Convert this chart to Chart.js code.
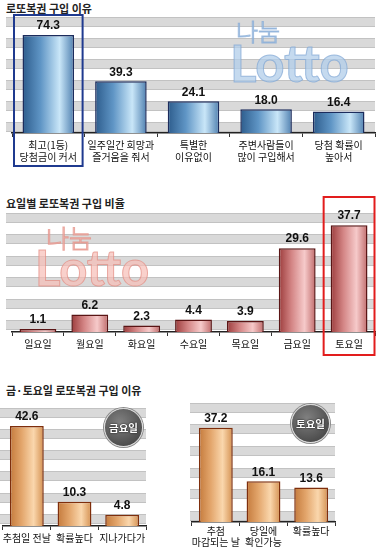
<!DOCTYPE html>
<html>
<head>
<meta charset="utf-8">
<script src="https://cdn.jsdelivr.net/npm/chart.js@4.4.1/dist/chart.umd.min.js"></script>
<style>
  body { margin: 0; background: #fff; }
  #page { position: relative; width: 380px; height: 548px; overflow: hidden; font-family: "Noto Sans CJK KR", sans-serif; }
  #page canvas { position: absolute; }
  .title { position: absolute; left: 6px; font-size: 11px; font-weight: bold; color: #222; line-height: 14px; white-space: nowrap; }
  .mark { position: absolute; line-height: 1; white-space: nowrap; pointer-events: none; }
  .mark.lotto { font-family: Lato, sans-serif; font-weight: bold; }
  .mark.nanum { font-family: "Noto Sans CJK KR", sans-serif; font-weight: 300; }
  .blue { color: rgba(178, 206, 234, 0.75); -webkit-text-stroke: 1px rgba(128, 166, 212, 0.7); }
  .pink { color: rgba(246, 190, 182, 0.7); -webkit-text-stroke: 1px rgba(226, 140, 130, 0.7); }
  .badge { position: absolute; width: 37px; height: 37px; border-radius: 50%;
    background: radial-gradient(circle at 40% 35%, #808080, #4c4c4c 75%);
    border: 1.5px solid #d8d8d8; box-shadow: 0 0 0 1px #8a8a8a;
    color: #fff; font-size: 10.5px; font-weight: bold; line-height: 37px; text-align: center;
    text-shadow: 0 0 2px #222, 0 0 1px #222; }
</style>
</head>
<body>
<div id="page">
  <div class="title" style="top:1px">로또복권 구입 이유</div>
  <canvas id="reason-chart" width="380" height="172" style="left:0;top:0"></canvas>
  <div class="mark nanum blue" style="left:236px;top:19px;font-size:24px">나눔</div>
  <div class="mark lotto blue" style="left:230px;top:37px;font-size:51px">Lotto</div>

  <div class="title" style="top:196px">요일별 로또복권 구입 비율</div>
  <canvas id="day-chart" width="380" height="175" style="left:0;top:185px"></canvas>
  <div class="mark nanum pink" style="left:46px;top:225px;font-size:25px">나눔</div>
  <div class="mark lotto pink" style="left:35px;top:243px;font-size:49px">Lotto</div>

  <div class="title" style="top:383px">금·토요일 로또복권 구입 이유</div>
  <canvas id="friday-chart" width="152" height="153" style="left:0;top:395px"></canvas>
  <canvas id="saturday-chart" width="157" height="153" style="left:185px;top:395px"></canvas>
  <div class="badge" style="left:104px;top:408px">금요일</div>
  <div class="badge" style="left:291px;top:404px">토요일</div>
</div>

<script>
// data
const reasonLabels = [["최고(1등)", "당첨금이 커서"], ["일주일간 희망과", "즐거움을 줘서"], ["특별한", "이유없이"], ["주변사람들이", "많이 구입해서"], ["당첨 확률이", "높아서"]];
const reasonValues = [74.3, 39.3, 24.1, 18.0, 16.4];

const dayLabels = ["일요일", "월요일", "화요일", "수요일", "목요일", "금요일", "토요일"];
const dayValues = [1.1, 6.2, 2.3, 4.4, 3.9, 29.6, 37.7];

const fridayLabels = ["추첨일 전날", "확률높다", "지나가다가"];
const fridayValues = [42.6, 10.3, 4.8];

const saturdayLabels = [["추첨", "마감되는 날"], ["당일에", "확인가능"], "확률높다"];
const saturdayValues = [37.2, 16.1, 13.6];

const BAR_SHARE = 0.71;
const KR_FONT = '"Noto Sans CJK KR", sans-serif';

const blueStops = [[0, "#2d5c8c"], [0.35, "#5f95c5"], [0.72, "#c9e6f8"], [1, "#4f80b0"]];
const redStops = [[0, "#9c3c3c"], [0.35, "#d48686"], [0.7, "#f6caca"], [1, "#c06b6b"]];
const orangeStops = [[0, "#c47a3c"], [0.35, "#e3a66c"], [0.7, "#fad7ad"], [1, "#d49050"]];

// horizontal shine across each bar
function barFill(stops) {
  return (context) => {
    const chart = context.chart;
    const xs = chart.scales.x;
    if (!xs || !chart.chartArea) return stops[2][1];
    const half = xs.width / chart.data.labels.length * BAR_SHARE / 2;
    const cx = xs.getPixelForValue(context.dataIndex);
    const g = chart.ctx.createLinearGradient(cx - half, 0, cx + half, 0);
    stops.forEach(([o, c]) => g.addColorStop(o, c));
    return g;
  };
}

const valueLabels = {
  id: "valueLabels",
  afterDatasetsDraw(chart) {
    const ctx = chart.ctx;
    const values = chart.data.datasets[0].data;
    ctx.save();
    ctx.font = 'bold 12px "Liberation Sans Narrow", "Liberation Sans", sans-serif';
    ctx.fillStyle = "#111";
    ctx.textAlign = "center";
    ctx.textBaseline = "bottom";
    chart.getDatasetMeta(0).data.forEach((bar, i) => {
      ctx.fillText(values[i].toFixed(1), bar.x, bar.y - 3);
    });
    ctx.restore();
  }
};

const highlightBox = {
  id: "highlightBox",
  afterDraw(chart, args, opts) {
    if (opts.index == null) return;
    const xs = chart.scales.x;
    const step = xs.width / chart.data.labels.length;
    const left = xs.getPixelForValue(opts.index) - step / 2 + opts.inset;
    const top = chart.chartArea.top - opts.above;
    const ctx = chart.ctx;
    ctx.save();
    ctx.strokeStyle = opts.color;
    ctx.lineWidth = 2;
    ctx.strokeRect(left, top, step - opts.inset * 2, chart.height - opts.below - top);
    ctx.restore();
  }
};

// gray bands behind the bars, placed on the y scale
const bands = {
  id: "bands",
  beforeDatasetsDraw(chart, args, opts) {
    const ys = chart.scales.y;
    const { left, right } = chart.chartArea;
    const x0 = left - opts.extend;
    const w = right - x0;
    const ctx = chart.ctx;
    ctx.save();
    opts.values.forEach(v => {
      const y = Math.round(ys.getPixelForValue(v));
      ctx.fillStyle = "#d9d9d9";
      ctx.fillRect(x0, y - 4, w, 8);
      ctx.fillStyle = "#c2c2c2";
      ctx.fillRect(x0, y - 5, w, 1);
      ctx.fillRect(x0, y + 4, w, 1);
    });
    ctx.restore();
  }
};

function makeBarChart(id, labels, values, o) {
  return new Chart(document.getElementById(id), {
    type: "bar",
    data: {
      labels: labels,
      datasets: [{
        data: values,
        backgroundColor: barFill(o.stops),
        borderColor: o.border,
        borderWidth: 1.5,
        categoryPercentage: 1,
        barPercentage: BAR_SHARE
      }]
    },
    options: {
      responsive: false,
      animation: false,
      layout: { padding: o.padding },
      plugins: {
        legend: { display: false },
        tooltip: { enabled: false },
        bands: { values: o.bands, extend: o.extend || 0 },
        highlightBox: o.highlight || {}
      },
      scales: {
        x: {
          grid: { drawOnChartArea: false, offset: true, tickLength: 4, tickColor: "#333" },
          border: { color: "#222", width: 1.5 },
          ticks: {
            color: "#111", padding: o.tickPad, maxRotation: 0, autoSkip: false,
            font: { family: KR_FONT, size: 10, lineHeight: o.lineHeight || 1.2 }
          }
        },
        y: {
          min: 0,
          max: o.max,
          display: false
        }
      }
    },
    plugins: [bands, valueLabels, highlightBox]
  });
}

makeBarChart("reason-chart", reasonLabels, reasonValues, {
  stops: blueStops, border: "#1c2c5c", max: 88, extend: 6,
  bands: [4.5, 20.5, 36.5, 52.5, 68.5, 84.5],
  padding: { left: 12, right: 5, top: 17, bottom: 7 }, tickPad: 2,
  highlight: { index: 0, color: "#1f3a8f", inset: 2, above: 2, below: 6 }
});

makeBarChart("day-chart", dayLabels, dayValues, {
  stops: redStops, border: "#5a1515", max: 42, extend: 6,
  bands: [2.3, 9.9, 17.5, 25.1, 32.7, 40.3],
  padding: { left: 12, right: 5, top: 28, bottom: 8 }, tickPad: 2,
  highlight: { index: 6, color: "#e21d1d", inset: 0.5, above: 16, below: 5 }
});

makeBarChart("friday-chart", fridayLabels, fridayValues, {
  stops: orangeStops, border: "#7e2e0c", max: 49, extend: 3,
  bands: [2.9, 12.0, 21.1, 30.2, 39.3, 48.0],
  padding: { left: 3, right: 6, top: 16, bottom: 2 }, tickPad: 2
});

makeBarChart("saturday-chart", saturdayLabels, saturdayValues, {
  stops: orangeStops, border: "#7e2e0c", max: 47, extend: 2,
  bands: [2.4, 10.95, 19.5, 28.05, 36.6, 45.15],
  padding: { left: 7, right: 7, top: 8, bottom: 0 }, tickPad: 0, lineHeight: 1.1
});
</script>
</body>
</html>
